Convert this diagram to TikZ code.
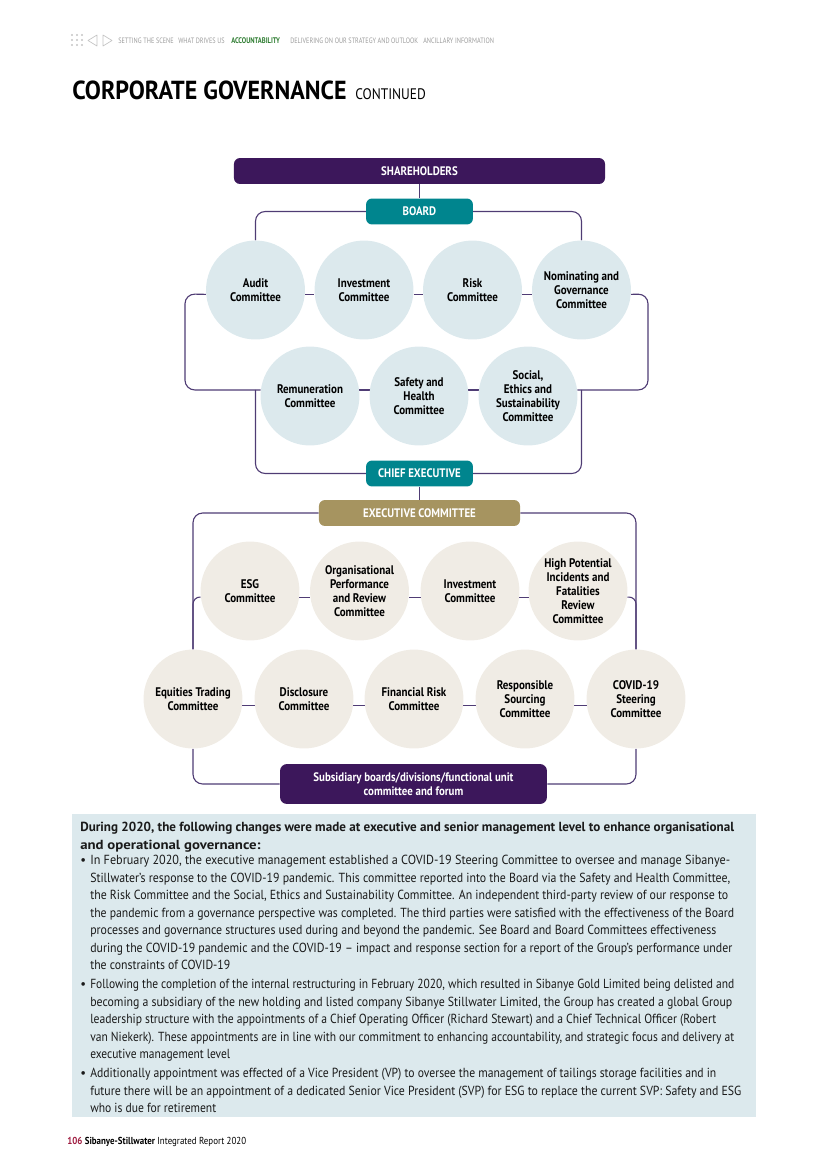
\documentclass[tikz,border=0pt]{standalone}
\usepackage{fontspec}
\usepackage{graphicx}
\setmainfont{PT Sans}
\newfontfamily\bodyf{PT Sans}[FakeStretch=0.88]
\newfontfamily\textf{PT Sans}[FakeStretch=0.97]
\newfontfamily\titlef{PT Sans}[FakeStretch=0.92]
\newfontfamily\navf{PT Sans}[FakeStretch=0.8]
\usetikzlibrary{calc}
\pgfdeclarelayer{bg}
\pgfsetlayers{bg,main}
\definecolor{dpurple}{HTML}{3C175B}
\definecolor{lpurple}{HTML}{4F3C74}
\definecolor{tealb}{HTML}{00858E}
\definecolor{goldb}{HTML}{A69460}
\definecolor{lblue}{HTML}{DCE9ED}
\definecolor{beige}{HTML}{F0ECE5}
\definecolor{navgreen}{HTML}{2F7D32}
\definecolor{navgray}{HTML}{9B9B9B}
\definecolor{navlight}{HTML}{C4C4C4}
\definecolor{crimson}{HTML}{9E1B3F}
\definecolor{bodytext}{HTML}{1A1A1A}
\newcommand\fitto[2]{\resizebox{#1pt}{\height}{#2}}
\begin{document}
\begin{tikzpicture}[x=0.7207pt,y=-0.7207pt,
  bcirc/.style={circle, fill=lblue, minimum size=71.3pt, inner sep=0pt, align=center, font=\bodyf\bfseries\fontsize{9}{10.1}\selectfont},
  ecirc/.style={bcirc, fill=beige},
  pill/.style={rounded corners=4.3pt, inner sep=0pt, align=center, text=white, minimum height=18.7pt, font=\bodyf\bfseries\fontsize{8.9}{10.1}\selectfont},
  conn/.style={draw=lpurple, line width=0.8pt, rounded corners=7pt},
  nav/.style={anchor=base west, inner sep=0pt, font=\navf\fontsize{5.6}{6}\selectfont, text=navgray},
  body/.style={anchor=base west, inner sep=0pt, text=bodytext, font=\textf\fontsize{9.5}{12}\selectfont},
  bodyb/.style={body, font=\textf\bfseries\fontsize{9.5}{12}\selectfont},
  bul/.style={anchor=base west, inner sep=0pt, text=bodytext, font=\textf\fontsize{9.5}{12}\selectfont}
]
\useasboundingbox (0,0) rectangle (826,1168);
% header navigation
\foreach \i in {0,1,2} \foreach \j in {0,1,2} \fill[navlight] (72+\i*5, 35+\j*5) circle[radius=0.75pt];
\draw[navlight, line width=0.5pt, line join=round] (97,35) -- (88,40.5) -- (97,46) -- cycle;
\draw[navlight, line width=0.5pt, line join=round] (103,35) -- (112,40.5) -- (103,46) -- cycle;
\node[nav] (n1) at (118,43) {SETTING THE SCENE};
\node[nav] (n2) at (178,43) {WHAT DRIVES US};
\node[nav, text=navgreen, font=\navf\bfseries\fontsize{5.9}{6}\selectfont] (n3) at (231,43) {ACCOUNTABILITY};
\node[nav] (n4) at (290,43) {DELIVERING ON OUR STRATEGY AND OUTLOOK};
\node[nav] (n5) at (423,43) {ANCILLARY INFORMATION};
% title
\node[anchor=base west, inner sep=0pt, font=\titlef\bfseries\fontsize{18.8}{20}\selectfont] (title) at (72,99) {CORPORATE GOVERNANCE};
\node[anchor=base west, inner sep=0pt, font=\bodyf\fontsize{11}{12}\selectfont] (cont) at (355,99) {CONTINUED};
% top boxes
\node[pill, fill=dpurple, minimum width=267.4pt] (sh) at (419.5,171) {SHAREHOLDERS};
\node[pill, fill=tealb, minimum width=77pt] (board) at (419.5,211.5) {BOARD};
% board committees
\node[bcirc] (audit) at (255.5,290) {Audit\\Committee};
\node[bcirc] (invest) at (364,290) {Investment\\Committee};
\node[bcirc] (risk) at (472.5,290) {Risk\\Committee};
\node[bcirc] (nom) at (581.5,290) {Nominating and\\Governance\\Committee};
\node[bcirc] (remun) at (310,396) {Remuneration\\Committee};
\node[bcirc] (safety) at (419,396) {Safety and\\Health\\Committee};
\node[bcirc] (social) at (528,396) {Social,\\Ethics and\\Sustainability\\Committee};
\node[pill, fill=tealb, minimum width=77pt] (ceo) at (419.5,473.5) {CHIEF EXECUTIVE};
\node[pill, fill=goldb, minimum width=144.9pt] (exec) at (419.5,513) {EXECUTIVE COMMITTEE};
% executive committees
\node[ecirc] (esg) at (250,591) {ESG\\Committee};
\node[ecirc] (org) at (359.5,591) {Organisational\\Performance\\and Review\\Committee};
\node[ecirc] (inv2) at (470,591) {Investment\\Committee};
\node[ecirc] (hp) at (578,591) {High Potential\\Incidents and\\Fatalities\\Review\\Committee};
\node[ecirc] (eq) at (193,699) {Equities Trading\\Committee};
\node[ecirc] (disc) at (304,699) {Disclosure\\Committee};
\node[ecirc] (fin) at (414,699) {Financial Risk\\Committee};
\node[ecirc] (resp) at (525,699) {Responsible\\Sourcing\\Committee};
\node[ecirc] (covid) at (636,699) {COVID-19\\Steering\\Committee};
\node[pill, fill=dpurple, minimum width=192.4pt, minimum height=28.8pt, rounded corners=5pt] (sub) at (413.5,784) {Subsidiary boards/divisions/functional unit\\committee and forum};
\coordinate (Lx) at (185,294);
\coordinate (Rx) at (648,294);
\begin{pgfonlayer}{bg}
\draw[conn] (sh.south) -- (board.north);
\draw[conn] (board.west) -| (audit.north);
\draw[conn] (board.east) -| (nom.north);
\draw[conn] (audit.-5) -- (invest.185);
\draw[conn] (invest.-5) -- (risk.185);
\draw[conn] (risk.-5) -- (nom.185);
\draw[conn] (audit.185) -- (Lx) -- (Lx |- remun.173) -- (remun.173);
\draw[conn] (nom.-5) -- (Rx) -- (Rx |- social.7) -- (social.7);
\draw[conn] (remun.7) -- (safety.173);
\draw[conn] (safety.7) -- (social.173);
\draw[conn] (audit.south |- remun.173) |- (ceo.west);
\draw[conn] (nom.south |- social.7) |- (ceo.east);
\draw[conn] (ceo.south) -- (exec.north);
\draw[conn] (exec.west) -| (eq.north);
\draw[conn] (exec.east) -| (covid.north);
\draw[conn, rounded corners=5pt] (esg.187) -- (eq.north |- esg.187) -- (eq.north);
\draw[conn, rounded corners=5pt] (hp.-7) -- (covid.north |- hp.-7) -- (covid.north);
\draw[conn] (esg.-7) -- (org.187);
\draw[conn] (org.-7) -- (inv2.187);
\draw[conn] (inv2.-7) -- (hp.187);
\draw[conn] (eq.-7) -- (disc.187);
\draw[conn] (disc.-7) -- (fin.187);
\draw[conn] (fin.-7) -- (resp.187);
\draw[conn] (resp.-7) -- (covid.187);
\draw[conn] (eq.south) |- (sub.west);
\draw[conn] (covid.south) |- (sub.east);
\fill[lblue] (72,814) rectangle (756,1117);
\end{pgfonlayer}
% text panel
\node[bodyb] (h1) at (80,831) {\fitto{471.3}{During 2020, the following changes were made at executive and senior management level to enhance organisational}};
\node[bodyb] (h2) at (80,849) {\fitto{130}{and operational governance:}};
\node[bul] (b1) at (80,864.5) {•};
\foreach \w/\t [count=\i] in {
 461.2/{In February 2020, the executive management established a COVID-19 Steering Committee to oversee and manage Sibanye-},
 461.2/{Stillwater’s response to the COVID-19 pandemic. This committee reported into the Board via the Safety and Health Committee,},
 459.8/{the Risk Committee and the Social, Ethics and Sustainability Committee. An independent third-party review of our response to},
 464.1/{the pandemic from a governance perspective was completed. The third parties were satisfied with the effectiveness of the Board},
 451.2/{processes and governance structures used during and beyond the pandemic. See Board and Board Committees effectiveness},
 462.7/{during the COVID-19 pandemic and the COVID-19 – impact and response section for a report of the Group’s performance under},
 100.9/{the constraints of COVID-19}}
 \node[body] (p1l\i) at (90,{864.5+17.5*(\i-1)}) {\fitto{\w}{\t}};
\node[bul] (b2) at (80,988.5) {•};
\foreach \w/\t [count=\i] in {
 464.1/{Following the completion of the internal restructuring in February 2020, which resulted in Sibanye Gold Limited being delisted and},
 462.7/{becoming a subsidiary of the new holding and listed company Sibanye Stillwater Limited, the Group has created a global Group},
 451.2/{leadership structure with the appointments of a Chief Operating Officer (Richard Stewart) and a Chief Technical Officer (Robert},
 464.1/{van Niekerk). These appointments are in line with our commitment to enhancing accountability, and strategic focus and delivery at},
 100.9/{executive management level}}
 \node[body] (p2l\i) at (90,{988.5+17.5*(\i-1)}) {\fitto{\w}{\t}};
\node[bul] (b3) at (80,1077.5) {•};
\foreach \w/\t [count=\i] in {
 451.2/{Additionally appointment was effected of a Vice President (VP) to oversee the management of tailings storage facilities and in},
 469.2/{future there will be an appointment of a dedicated Senior Vice President (SVP) for ESG to replace the current SVP: Safety and ESG},
 90.8/{who is due for retirement}}
 \node[body] (p3l\i) at (90,{1077.5+17.5*(\i-1)}) {\fitto{\w}{\t}};
% footer
\node[anchor=base west, inner sep=0pt, font=\bodyf\fontsize{7.3}{9}\selectfont] (foot) at (67,1144) {\textcolor{crimson}{\bfseries 106} \textbf{Sibanye-Stillwater} Integrated Report 2020};
\end{tikzpicture}
\end{document}
